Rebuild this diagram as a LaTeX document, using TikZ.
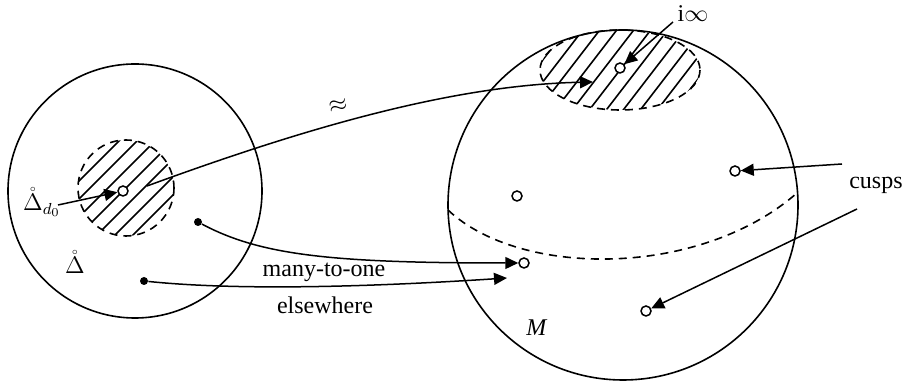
\documentclass[tikz,border=0pt]{standalone}
\usepackage{fontspec}
\setmainfont{Liberation Serif}
\usetikzlibrary{arrows.meta}
\tikzset{
  domain edge/.style={
    line width=0.8pt
  },
  map arrow/.style={
    line width=0.75pt,
    -{Triangle[length=6.5pt,width=6pt]}
  },
  region edge/.style={
    line width=0.8pt,
    dash pattern=on 4pt off 3pt
  },
  hatch line/.style={
    line width=0.8pt
  },
  puncture/.style={
    circle,
    draw,
    line width=0.75pt,
    fill=white,
    inner sep=0pt,
    minimum size=5pt
  },
  marked point/.style={
    circle,
    fill=black,
    inner sep=0pt,
    minimum size=4pt
  }
}

\begin{document}
\begin{tikzpicture}[x=0.5pt,y=-0.5pt,font=\fontsize{12}{14}\selectfont]

    \useasboundingbox (0,0) rectangle (906,383);

    % ---------- 斜線の領域 ----------
    % 左の円の中の近傍
    \begin{scope}
      \clip (126,188) circle[radius=48];
      \foreach \k in {-6,...,6}{
        \draw[hatch line]
          ({126+\k*18-60},248) -- ({126+\k*18+60},128);
      }
    \end{scope}
    \draw[region edge] (126,188) circle[radius=48];

    % 右の円の上部（i\infty の近傍）
    \begin{scope}
      \clip (620,70) ellipse[x radius=80,y radius=40];
      \foreach \k in {-8,...,8}{
        \draw[hatch line]
          ({620+\k*17-40},122) -- ({620+\k*17+40},18);
      }
    \end{scope}
    \draw[region edge] (620,70) ellipse[x radius=80,y radius=40];

    % ---------- 二つの円 ----------
    \draw[domain edge] (135,191) circle[radius=127];
    \draw[domain edge] (623,205) circle[radius=175];

    % 右の円を横切る破線
    \draw[region edge]
      (448,210)
      .. controls (520,278) and (700,278) ..
      (797,193);

    % ---------- 点 ----------
    \node[puncture] (base) at (123,191) {};
    \node[puncture] (infty) at (620,68) {};
    \node[puncture] (inner) at (517,196) {};
    \node[puncture] (cuspA) at (735,171) {};
    \node[puncture] (image) at (524,263) {};
    \node[puncture] (cuspB) at (646,311) {};

    \node[marked point] (ptA) at (198,222) {};
    \node[marked point] (ptB) at (144,281) {};

    % ---------- ラベル ----------
    \node (deltaD) at (42,202) {$\mathring{\Delta}_{d_0}$};
    \node (delta) at (75,262) {$\mathring{\Delta}$};
    \node (approx) at (338,106) [rotate=12] {$\approx$};
    \node (manyone) at (324,272) {many-to-one};
    \node (elsewhere) at (325,305) {elsewhere};
    \node (iinf) at (693,14) {i$\infty$};
    \node (cusps) at (876,185) {cusps};
    \node (Mlabel) at (537,328) {\textit{M}};

    % ---------- 矢印 ----------
    \coordinate (deltaTail) at (58,205);
    \coordinate (hatchTail) at (147,186);
    \coordinate (hatchTip) at (593,82);
    \coordinate (lowTip) at (507,278);
    \coordinate (iinfTail) at (673,22);
    \coordinate (cuspTailA) at (842,164);
    \coordinate (cuspTailB) at (857,209);

    \draw[map arrow] (deltaTail) -- (base);

    % 近傍から i\infty の近傍へ
    \draw[map arrow]
      (hatchTail)
      .. controls (300,130) and (450,85) ..
      (hatchTip);

    % 多対一の対応
    \draw[map arrow]
      (ptA)
      .. controls (260,255) and (330,263) ..
      (image);

    \draw[map arrow]
      (ptB)
      .. controls (250,292) and (400,285) ..
      (lowTip);

    \draw[map arrow] (iinfTail) -- (infty);
    \draw[map arrow] (cuspTailA) -- (cuspA);
    \draw[map arrow] (cuspTailB) -- (cuspB);

\end{tikzpicture}
\end{document}
